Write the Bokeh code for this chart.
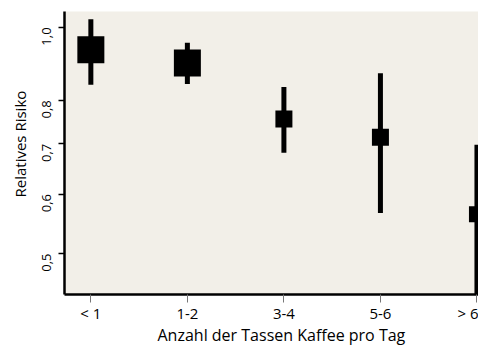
import numpy as np
from math import pi
from bokeh.plotting import figure
from bokeh.models import FixedTicker, Range1d, Title, ColumnDataSource
from bokeh.embed import file_html
from bokeh.resources import INLINE

categories = ["< 1", "1-2", "3-4", "5-6", "> 6"]
rr = [0.934, 0.897, 0.755, 0.714, 0.564]
ci_low = [0.839, 0.841, 0.681, 0.566, 0.43]
ci_high = [1.025, 0.954, 0.833, 0.869, 0.698]
box_px = [27, 27, 17, 17, 16]
y_ticks = [0.5, 0.6, 0.7, 0.8, 1.0]
y_tick_labels = ["0,5", "0,6", "0,7", "0,8", "1,0"]

xpos = np.arange(len(categories))
src = ColumnDataSource(dict(x=xpos, rr=rr, lo=ci_low, hi=ci_high, s=box_px))

FONT = "Open Sans"
BG = "#f2efe8"

p = figure(width=478, height=346, y_axis_type="log",
           x_range=Range1d(-0.273, 4.016), y_range=Range1d(0.441, 1.05),
           output_backend="svg", toolbar_location=None,
           background_fill_color=BG, border_fill_color="white",
           min_border_left=64, min_border_right=0, min_border_top=11, min_border_bottom=52)
p.outline_line_color = None
p.grid.visible = False

p.segment(x0="x", y0="lo", x1="x", y1="hi", source=src, line_width=5,
          line_color="black", line_cap="butt")
p.rect(x="x", y="rr", width="s", height="s", width_units="screen", height_units="screen",
       source=src, fill_color="black", line_color=None)

# x axis
xa = p.xaxis[0]
xa.ticker = FixedTicker(ticks=list(xpos))
xa.major_label_overrides = {int(i): c for i, c in zip(xpos, categories)}
xa.axis_line_width = 2.5
xa.axis_line_color = "black"
xa.major_tick_line_color = "#777777"
xa.major_tick_line_width = 1
xa.major_tick_out = 8
xa.major_tick_in = 0
xa.minor_tick_line_color = None
xa.major_label_standoff = 0
xa.major_label_text_font = FONT
xa.major_label_text_font_size = "15px"
xa.major_label_text_color = "black"

# y axis
ya = p.yaxis[0]
ya.ticker = FixedTicker(ticks=y_ticks)
ya.major_label_overrides = {t: l for t, l in zip(y_ticks, y_tick_labels)}
ya.axis_line_width = 2.5
ya.axis_line_color = "black"
ya.major_tick_line_color = "black"
ya.major_tick_line_width = 1.5
ya.major_tick_out = 6
ya.major_tick_in = 0
ya.minor_tick_line_color = None
ya.major_label_orientation = pi / 2
ya.major_label_standoff = 12
ya.major_label_text_font = FONT
ya.major_label_text_font_size = "13px"
ya.major_label_text_color = "black"

t_x = Title(text="Anzahl der Tassen Kaffee pro Tag", align="left", offset=93,
            vertical_align="top",
            text_font=FONT, text_font_size="16px", text_font_style="normal",
            text_color="black", standoff=-4)
p.add_layout(t_x, "below")
t_y = Title(text="Relatives Risiko", align="left", offset=97,
            text_font=FONT, text_font_size="15px", text_font_style="normal",
            text_color="black", standoff=10)
p.add_layout(t_y, "left")

open("out.html", "w").write(file_html(p, INLINE))
